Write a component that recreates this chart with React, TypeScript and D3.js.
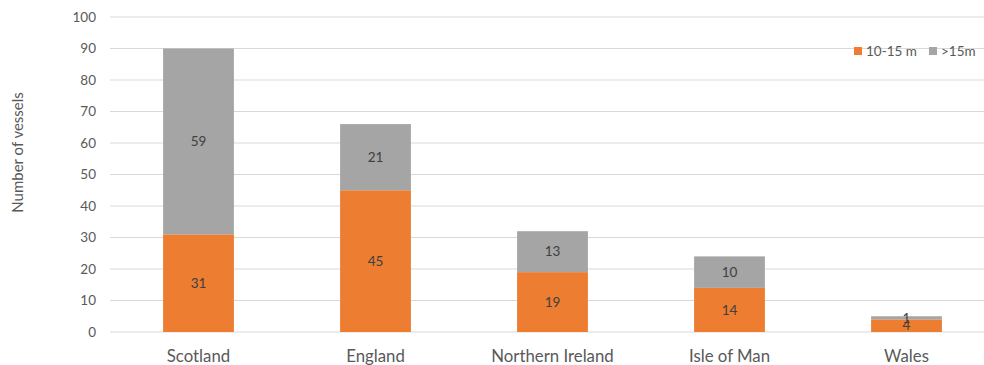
import React from "react";
import * as d3 from "d3";

const categories = ["Scotland", "England", "Northern Ireland", "Isle of Man", "Wales"];
const small = [31, 45, 19, 14, 4]; // 10-15 m
const large = [59, 21, 13, 10, 1]; // >15m
const seriesNames = ["10-15 m", ">15m"];
const yTicks = [0, 10, 20, 30, 40, 50, 60, 70, 80, 90, 100];

const W = 984;
const H = 365;
const colors = ["#ED7D31", "#A5A5A5"];
const font = "Lato, 'Open Sans', sans-serif";

export default function App() {
  const x = d3.scaleBand<string>().domain(categories).range([110, 995]).paddingInner(0.6).paddingOuter(0.3);
  const y = d3.scaleLinear().domain([0, 100]).range([332, 17]);

  const rows = categories.map((c, i) => ({ cat: c, s: small[i], l: large[i] }));
  const stack = d3.stack<any>().keys(["s", "l"])(rows);

  return (
    <svg width={W} height={H} style={{ position: "absolute", left: 0, top: 0, background: "#fff" }} fontFamily={font}>
      {yTicks.map((t) => (
        <g key={t}>
          <line x1={110} x2={W} y1={y(t)} y2={y(t)} stroke="#D9D9D9" strokeWidth={1} />
          <text x={96} y={y(t)} dy="0.35em" textAnchor="end" fontSize={13.5} fill="#595959">
            {t}
          </text>
        </g>
      ))}
      <text
        transform={`translate(18,${y(57)}) rotate(-90)`}
        textAnchor="middle"
        dy="0.35em"
        fontSize={15}
        fill="#595959"
      >
        Number of vessels
      </text>
      {stack.map((layer, si) =>
        layer.map((d, i) => {
          const bx = x(categories[i])!;
          const top = y(d[1]);
          const bottom = y(d[0]);
          const val = d[1] - d[0];
          return (
            <g key={`${si}-${i}`}>
              <rect x={bx} y={top} width={x.bandwidth()} height={bottom - top} fill={colors[si]} />
              <text
                x={bx + x.bandwidth() / 2}
                y={(top + bottom) / 2}
                dy="0.35em"
                textAnchor="middle"
                fontSize={13.5}
                fill="#404040"
              >
                {val}
              </text>
            </g>
          );
        })
      )}
      {categories.map((c) => (
        <text key={c} x={x(c)! + x.bandwidth() / 2} y={356} dy="0.35em" textAnchor="middle" fontSize={16.8} fill="#595959">
          {c}
        </text>
      ))}
      <g>
        <rect x={854} y={47} width={8} height={8} fill={colors[0]} />
        <text x={866} y={51} dy="0.35em" fontSize={13.5} fill="#595959">
          {seriesNames[0]}
        </text>
        <rect x={929} y={47} width={8} height={8} fill={colors[1]} />
        <text x={941} y={51} dy="0.35em" fontSize={13.5} fill="#595959">
          {seriesNames[1]}
        </text>
      </g>
    </svg>
  );
}
